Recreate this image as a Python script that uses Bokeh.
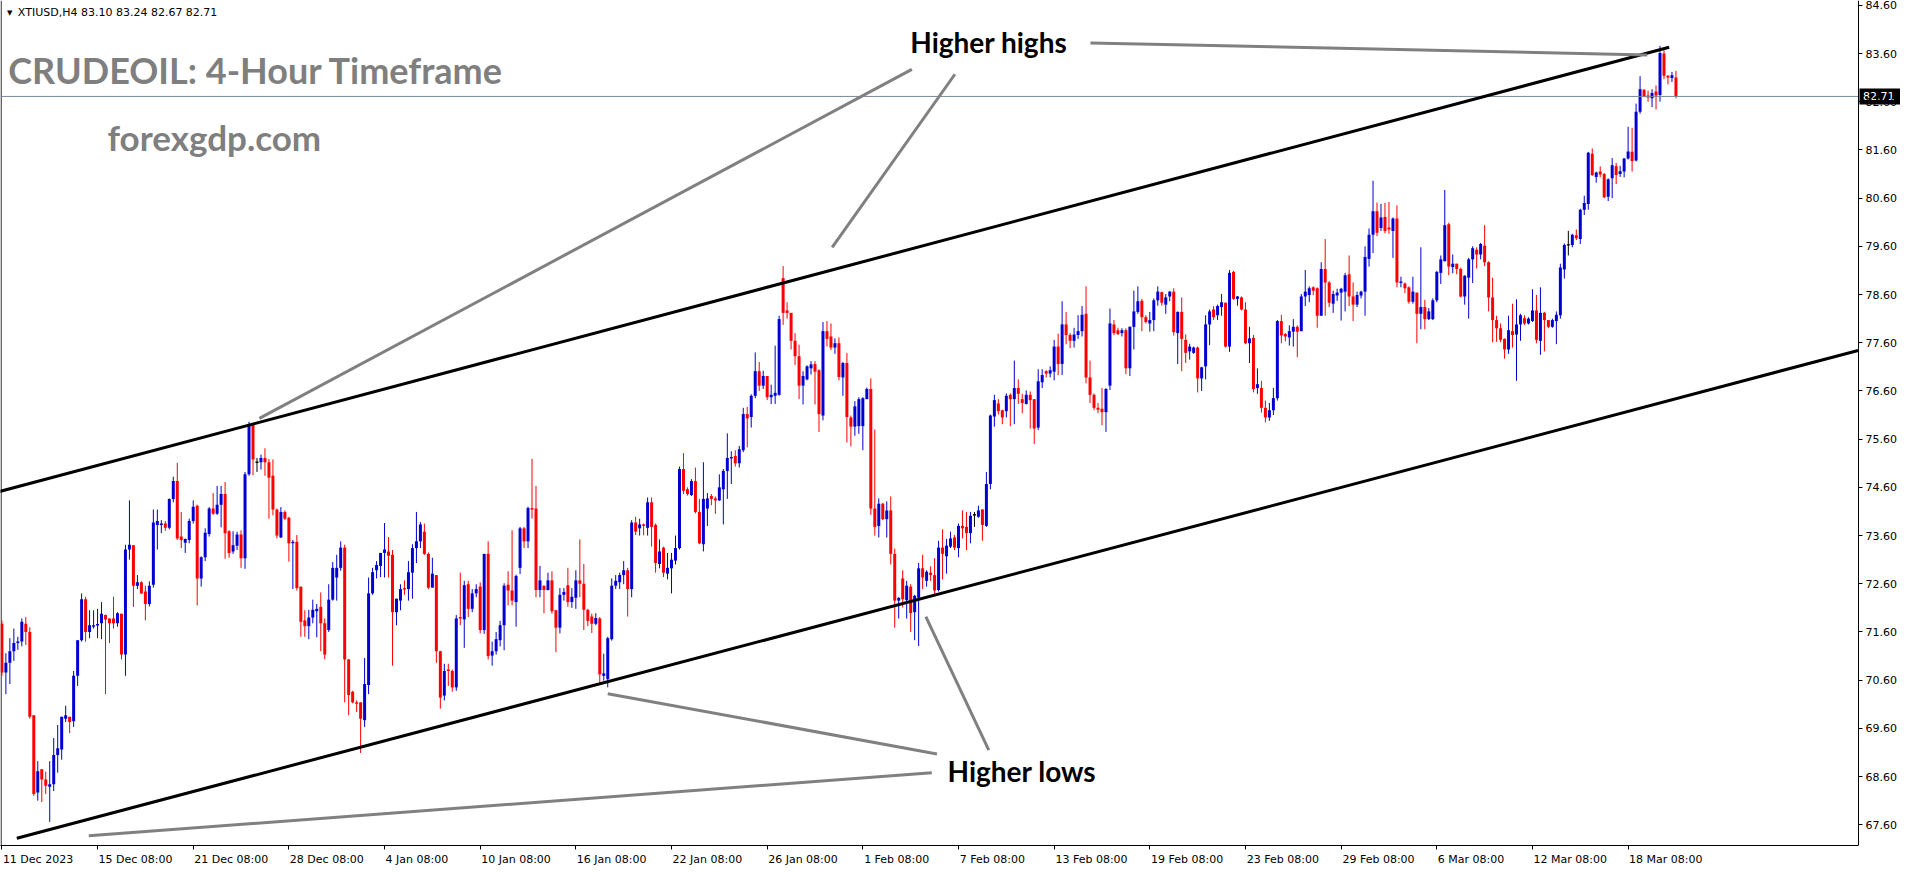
from bokeh.plotting import figure
from bokeh.models import Range1d, FixedTicker, PrintfTickFormatter
from bokeh.core.properties import value
from bokeh.embed import file_html
from bokeh.resources import INLINE

# ---------------- data (XTIUSD H4, one value per candle) ----------------
opens = [
    71.77, 70.76, 70.96, 71.20, 71.37, 71.40, 71.77, 71.60, 69.87, 68.27,
    68.75, 68.54, 68.39, 68.44, 69.05, 69.16, 69.80, 69.84, 69.75, 70.69,
    71.43, 72.28, 71.60, 71.71, 71.74, 71.78, 71.95, 71.88, 71.88, 71.78,
    71.98, 71.13, 73.31, 73.40, 72.56, 72.63, 72.44, 72.18, 72.58, 73.82,
    73.82, 73.85, 73.76, 74.36, 74.73, 73.58, 73.45, 73.51, 73.90, 74.22,
    72.71, 73.15, 73.63, 74.16, 74.05, 74.24, 74.46, 73.69, 73.27, 73.39,
    73.62, 73.13, 74.87, 75.91, 75.12, 75.12, 75.21, 75.12, 74.84, 74.14,
    73.56, 74.09, 73.97, 73.44, 73.47, 72.54, 71.84, 71.72, 71.90, 72.03,
    72.12, 71.78, 71.64, 72.27, 72.73, 72.93, 73.35, 71.03, 70.36, 70.14,
    70.14, 69.77, 70.50, 72.40, 72.88, 72.97, 73.24, 73.27, 73.20, 72.01,
    72.25, 72.51, 72.49, 72.83, 73.34, 73.48, 73.68, 73.22, 72.52, 72.78,
    71.20, 70.28, 70.82, 70.79, 70.45, 71.91, 71.86, 72.59, 72.08, 72.40,
    72.54, 71.64, 73.22, 71.11, 71.20, 71.43, 71.74, 72.58, 72.46, 72.22,
    72.93, 73.75, 73.48, 74.17, 74.16, 72.47, 72.56, 72.47, 72.67, 72.05,
    71.69, 72.37, 72.57, 72.22, 72.31, 72.67, 72.60, 72.06, 71.92, 71.77,
    71.88, 70.69, 70.62, 71.45, 72.56, 72.63, 72.78, 72.88, 72.49, 73.87,
    73.75, 73.83, 73.76, 74.29, 73.82, 73.01, 73.35, 72.81, 72.92, 73.08,
    73.34, 74.98, 74.56, 74.44, 74.73, 74.09, 73.42, 74.16, 74.42, 74.37,
    74.33, 74.56, 74.94, 75.20, 75.25, 75.10, 75.37, 76.12, 76.06, 76.50,
    77.01, 76.71, 76.91, 76.47, 76.50, 76.52, 78.94, 78.27, 78.22, 77.64,
    77.32, 76.71, 76.84, 77.07, 77.16, 77.03, 76.09, 77.84, 77.73, 77.50,
    77.59, 76.88, 77.18, 76.05, 75.86, 75.87, 75.87, 76.43, 76.64, 74.16,
    73.80, 74.26, 73.94, 74.12, 73.22, 72.25, 72.71, 72.26, 72.54, 72.01,
    72.31, 72.92, 72.66, 72.83, 72.78, 72.47, 73.35, 73.17, 73.37, 73.56,
    73.34, 73.80, 73.78, 73.65, 74.03, 73.99, 74.14, 73.80, 74.67, 76.07,
    76.34, 76.20, 76.18, 76.52, 76.43, 76.66, 76.43, 76.33, 76.52, 76.43,
    75.84, 76.78, 77.01, 76.96, 77.00, 77.52, 77.16, 77.98, 77.76, 77.64,
    77.76, 77.84, 78.20, 76.88, 76.52, 76.25, 76.23, 76.16, 76.71, 77.98,
    77.86, 77.80, 77.86, 77.07, 77.93, 78.24, 78.47, 78.13, 78.00, 78.07,
    78.48, 78.65, 78.39, 78.56, 78.66, 77.80, 78.24, 77.66, 77.42, 77.39,
    77.50, 76.86, 77.11, 77.98, 78.29, 78.17, 78.34, 78.43, 77.52, 79.07,
    78.51, 78.54, 78.29, 77.59, 77.70, 76.66, 76.66, 76.25, 76.05, 76.20,
    76.45, 78.05, 77.78, 77.71, 77.83, 77.93, 77.84, 78.56, 78.59, 78.75,
    78.73, 78.16, 79.13, 78.85, 78.41, 78.58, 78.64, 78.66, 79.02, 78.56,
    78.39, 78.58, 78.66, 79.34, 79.84, 80.33, 79.98, 80.21, 79.99, 79.92,
    80.18, 78.84, 78.83, 78.75, 78.45, 78.64, 78.20, 78.34, 78.09, 78.09,
    78.48, 79.05, 79.29, 80.06, 79.17, 79.24, 79.13, 78.56, 78.95, 79.33,
    79.53, 79.43, 79.61, 79.27, 78.54, 78.07, 77.90, 77.68, 77.46, 77.84,
    77.77, 77.98, 78.11, 78.00, 78.05, 78.27, 77.64, 78.22, 78.07, 77.93,
    78.05, 78.17, 79.12, 79.63, 79.63, 79.83, 79.75, 80.36, 80.48, 81.52,
    81.04, 81.15, 81.10, 80.63, 81.01, 81.26, 81.10, 81.15, 81.42, 81.56,
    81.38, 82.39, 82.85, 82.73, 82.67, 82.81, 82.74, 83.60, 83.14, 83.09,
    83.10,
]
highs = [
    71.84, 71.16, 71.47, 71.67, 71.50, 71.88, 71.91, 71.70, 69.87, 68.92,
    68.75, 68.70, 68.92, 69.40, 69.67, 69.84, 70.07, 69.84, 70.79, 71.43,
    72.40, 72.33, 72.05, 72.05, 72.08, 72.22, 71.96, 71.88, 72.33, 72.01,
    71.98, 73.41, 74.33, 73.40, 72.78, 72.65, 72.56, 72.65, 74.14, 74.14,
    73.92, 73.90, 74.37, 74.82, 75.11, 74.09, 73.54, 73.95, 74.33, 74.24,
    73.17, 73.75, 74.19, 74.48, 74.63, 74.63, 74.71, 73.71, 73.69, 73.68,
    73.71, 74.92, 75.96, 75.92, 75.21, 75.28, 75.41, 75.19, 75.18, 74.16,
    74.19, 74.12, 73.99, 73.51, 73.61, 72.54, 72.05, 72.06, 72.27, 72.18,
    72.42, 71.88, 72.59, 73.05, 73.20, 73.48, 73.41, 71.04, 70.38, 70.18,
    70.14, 71.06, 72.73, 72.93, 73.07, 73.24, 73.86, 73.57, 73.30, 72.29,
    72.59, 72.67, 73.07, 73.42, 74.09, 73.88, 73.85, 73.25, 73.14, 72.78,
    71.21, 70.94, 70.94, 70.82, 71.95, 72.83, 72.66, 72.66, 72.49, 72.59,
    72.63, 73.22, 73.48, 71.40, 71.60, 71.83, 72.61, 72.86, 73.71, 72.79,
    73.78, 73.78, 74.20, 75.19, 74.63, 72.97, 72.56, 72.83, 72.86, 72.06,
    72.51, 72.51, 72.93, 72.51, 72.88, 73.52, 73.01, 72.08, 71.98, 71.99,
    71.91, 71.15, 71.50, 72.71, 72.78, 72.83, 73.07, 72.93, 73.92, 73.99,
    73.95, 73.85, 74.39, 74.39, 73.85, 73.52, 73.37, 73.24, 73.24, 73.60,
    75.03, 75.31, 74.60, 74.77, 75.01, 74.36, 75.12, 74.48, 74.46, 74.41,
    74.87, 74.98, 75.72, 75.35, 75.37, 75.46, 76.25, 76.27, 76.53, 77.40,
    77.20, 77.02, 76.91, 76.73, 77.54, 78.16, 79.19, 78.44, 78.22, 77.80,
    77.56, 77.01, 77.13, 77.22, 77.22, 77.05, 78.03, 78.05, 78.00, 77.69,
    77.71, 77.20, 77.39, 76.09, 76.39, 76.47, 76.47, 76.67, 76.86, 75.80,
    74.37, 74.28, 74.31, 74.41, 73.33, 72.32, 72.88, 72.66, 72.59, 72.37,
    73.03, 73.20, 72.88, 72.96, 73.13, 73.49, 73.73, 73.53, 73.68, 73.61,
    73.85, 74.12, 74.09, 74.09, 74.09, 74.22, 74.15, 74.92, 76.11, 76.52,
    76.43, 76.21, 76.55, 76.55, 77.23, 76.84, 76.54, 76.61, 76.59, 76.43,
    77.05, 77.05, 77.03, 77.11, 77.66, 77.79, 78.46, 78.24, 77.80, 77.91,
    78.17, 78.36, 78.77, 77.23, 76.55, 76.35, 76.66, 76.66, 78.31, 78.07,
    77.91, 77.90, 77.90, 77.94, 78.68, 78.77, 78.51, 78.17, 78.24, 78.52,
    78.77, 78.66, 78.61, 78.67, 78.73, 78.25, 78.54, 77.77, 77.58, 77.52,
    77.52, 77.10, 78.17, 78.29, 78.36, 78.39, 78.61, 78.43, 79.11, 79.09,
    78.57, 78.56, 78.44, 77.93, 77.76, 77.07, 76.81, 76.40, 76.35, 76.66,
    78.07, 78.18, 77.80, 77.96, 78.09, 77.96, 78.61, 79.11, 78.77, 78.77,
    78.75, 79.27, 79.75, 78.88, 78.68, 78.72, 78.74, 79.05, 79.41, 78.85,
    78.66, 78.68, 79.60, 79.97, 80.96, 80.51, 80.48, 80.50, 80.52, 80.20,
    80.45, 78.97, 78.85, 78.77, 78.97, 78.64, 79.58, 78.49, 78.32, 78.52,
    79.09, 79.41, 80.77, 80.09, 79.43, 79.24, 79.16, 79.00, 79.36, 79.60,
    79.58, 79.67, 80.04, 79.29, 78.95, 78.16, 78.00, 77.69, 78.16, 78.41,
    78.50, 78.20, 78.17, 78.13, 78.71, 78.59, 78.75, 78.24, 78.07, 78.10,
    78.25, 79.24, 79.66, 79.92, 79.86, 79.95, 80.38, 80.65, 81.56, 81.63,
    81.15, 81.26, 81.12, 81.01, 81.43, 81.33, 81.27, 81.43, 82.08, 82.06,
    82.56, 83.13, 82.86, 82.83, 82.86, 82.94, 83.76, 83.67, 83.15, 83.22,
    83.24,
]
lows = [
    70.69, 70.31, 70.52, 71.00, 71.23, 71.30, 71.33, 69.80, 68.20, 68.10,
    68.07, 68.24, 67.66, 68.30, 68.68, 68.95, 69.73, 69.50, 69.63, 70.48,
    71.40, 71.40, 71.47, 71.67, 71.47, 71.45, 70.31, 71.37, 71.67, 71.71,
    71.03, 70.69, 73.10, 72.12, 72.49, 72.39, 71.84, 72.13, 72.52, 73.31,
    73.65, 73.70, 73.73, 74.29, 73.51, 73.34, 73.24, 73.44, 73.85, 72.15,
    72.54, 73.07, 73.58, 74.03, 74.03, 73.77, 73.12, 73.14, 73.22, 73.30,
    72.93, 72.91, 74.84, 74.85, 74.92, 74.97, 74.84, 73.95, 74.02, 73.54,
    73.55, 73.92, 73.06, 72.49, 72.46, 71.50, 71.50, 71.45, 71.78, 71.49,
    71.20, 71.03, 71.60, 72.25, 72.25, 72.87, 70.14, 69.87, 70.12, 69.94,
    69.09, 69.63, 70.31, 72.37, 72.71, 72.74, 72.73, 72.73, 70.90, 71.74,
    72.05, 72.37, 72.25, 72.29, 73.03, 73.34, 73.20, 72.49, 72.52, 70.96,
    70.01, 70.18, 70.48, 70.36, 70.38, 71.74, 71.27, 71.91, 72.01, 72.32,
    71.57, 71.56, 71.03, 70.90, 71.13, 71.30, 71.22, 72.15, 72.15, 71.71,
    72.80, 73.34, 73.34, 73.95, 72.32, 72.32, 71.99, 72.46, 71.98, 71.18,
    71.57, 72.25, 72.12, 72.10, 72.08, 72.32, 71.64, 71.72, 71.58, 71.74,
    70.55, 70.59, 70.45, 71.42, 72.49, 72.49, 72.59, 71.92, 72.32, 73.61,
    73.60, 73.61, 73.60, 73.37, 72.83, 72.92, 72.74, 72.69, 72.40, 73.00,
    73.31, 74.46, 74.43, 74.42, 74.06, 73.42, 73.27, 73.80, 74.23, 74.05,
    74.32, 73.83, 74.36, 74.67, 75.03, 75.01, 75.33, 75.43, 75.84, 76.45,
    76.60, 76.64, 76.41, 76.33, 76.33, 76.50, 77.97, 78.10, 77.46, 77.14,
    76.43, 76.32, 76.82, 76.94, 76.32, 75.75, 75.99, 77.52, 77.45, 77.37,
    76.82, 76.50, 75.53, 75.45, 75.67, 75.71, 75.37, 76.43, 74.03, 73.60,
    73.56, 73.92, 73.56, 73.00, 71.69, 71.88, 72.11, 71.88, 71.60, 71.43,
    71.31, 72.49, 72.54, 72.66, 72.39, 72.44, 72.69, 72.81, 73.34, 73.30,
    73.15, 73.54, 73.30, 73.44, 73.78, 73.97, 73.49, 73.78, 74.56, 75.86,
    76.11, 75.91, 76.05, 75.87, 75.91, 76.33, 76.14, 76.32, 75.82, 75.50,
    75.79, 76.66, 76.88, 76.88, 76.82, 76.93, 76.93, 77.57, 77.49, 77.50,
    77.68, 77.73, 76.76, 76.35, 76.20, 76.14, 75.89, 75.75, 76.62, 77.76,
    77.76, 77.73, 76.95, 76.91, 77.46, 78.20, 77.84, 78.00, 77.83, 77.84,
    78.37, 78.37, 78.20, 78.46, 77.75, 77.16, 77.01, 77.18, 77.25, 77.37,
    76.57, 76.60, 76.84, 77.55, 78.07, 78.07, 78.16, 77.50, 77.41, 78.49,
    78.37, 78.27, 77.57, 77.18, 76.57, 76.54, 76.15, 75.95, 75.98, 76.10,
    76.40, 77.59, 77.63, 77.54, 77.52, 77.30, 77.84, 78.36, 78.44, 78.59,
    77.91, 78.16, 78.16, 78.34, 78.22, 78.47, 78.06, 78.25, 78.36, 78.05,
    78.34, 78.52, 78.16, 79.18, 79.46, 79.81, 79.92, 79.87, 79.86, 79.36,
    78.75, 78.75, 78.63, 78.41, 78.41, 77.59, 77.88, 77.88, 78.07, 78.07,
    78.44, 78.82, 79.29, 79.00, 79.04, 79.02, 78.54, 78.39, 78.10, 78.84,
    79.14, 79.33, 79.19, 78.25, 77.61, 77.62, 77.61, 77.27, 77.37, 77.50,
    76.81, 77.64, 77.97, 77.98, 78.03, 77.59, 77.35, 77.42, 77.90, 77.91,
    77.57, 78.10, 78.93, 79.41, 79.58, 79.73, 79.65, 80.25, 80.36, 81.06,
    80.92, 81.03, 80.60, 80.54, 80.60, 80.89, 81.04, 81.03, 81.40, 81.15,
    81.36, 82.35, 82.69, 82.60, 82.49, 82.44, 82.60, 83.07, 82.96, 83.01,
    82.67,
]
closes = [
    70.76, 70.96, 71.20, 71.37, 71.40, 71.81, 71.60, 69.84, 68.24, 68.71,
    68.54, 68.41, 68.44, 69.05, 69.19, 69.84, 69.87, 69.73, 70.69, 71.43,
    72.28, 71.60, 71.74, 71.74, 71.76, 71.98, 71.86, 71.78, 71.78, 71.99,
    71.13, 73.31, 73.41, 72.56, 72.63, 72.40, 72.18, 72.56, 73.87, 73.90,
    73.85, 73.76, 74.36, 74.73, 73.54, 73.51, 73.53, 73.90, 74.20, 72.71,
    73.15, 73.66, 74.16, 74.05, 74.24, 74.46, 73.65, 73.24, 73.40, 73.62,
    73.13, 74.87, 75.91, 75.18, 75.12, 75.21, 75.12, 74.80, 74.14, 73.60,
    74.09, 73.95, 73.44, 73.47, 72.51, 71.81, 71.72, 71.90, 72.06, 72.08,
    71.78, 71.13, 72.27, 72.93, 72.93, 73.35, 71.03, 70.29, 70.14, 70.11,
    69.80, 70.52, 72.40, 72.84, 72.99, 73.24, 73.31, 73.18, 72.01, 72.29,
    72.49, 72.48, 72.84, 73.34, 73.48, 73.83, 73.22, 72.52, 72.81, 71.20,
    70.24, 70.79, 70.79, 70.45, 71.88, 71.88, 72.57, 72.08, 72.40, 72.49,
    71.64, 73.22, 71.10, 71.20, 71.45, 71.74, 72.56, 72.46, 72.25, 72.76,
    73.75, 73.48, 74.17, 74.14, 72.47, 72.67, 72.47, 72.67, 72.03, 71.69,
    72.37, 72.43, 72.22, 72.33, 72.67, 72.60, 72.06, 71.83, 71.77, 71.89,
    70.72, 70.74, 71.47, 72.56, 72.66, 72.78, 72.88, 72.49, 73.87, 73.68,
    73.83, 73.80, 74.29, 73.78, 73.03, 73.27, 72.83, 72.93, 73.10, 73.34,
    74.98, 74.53, 74.46, 74.73, 74.09, 73.44, 74.36, 74.37, 74.36, 74.33,
    74.60, 74.94, 75.21, 75.23, 75.10, 75.39, 76.12, 76.03, 76.50, 77.01,
    76.71, 76.91, 76.47, 76.52, 76.56, 78.09, 78.22, 78.22, 77.64, 77.32,
    76.71, 76.91, 77.11, 77.15, 77.00, 76.12, 77.84, 77.68, 77.50, 77.59,
    76.89, 77.18, 76.06, 75.86, 76.28, 76.43, 76.45, 76.64, 74.16, 73.78,
    74.26, 73.94, 74.12, 73.22, 72.25, 72.31, 72.28, 72.56, 71.99, 72.35,
    72.92, 72.73, 72.85, 72.78, 72.46, 73.35, 73.22, 73.39, 73.54, 73.35,
    73.80, 73.75, 73.65, 74.01, 74.03, 74.12, 73.82, 74.67, 76.09, 76.41,
    76.18, 76.05, 76.50, 76.43, 76.66, 76.54, 76.35, 76.52, 76.41, 75.82,
    76.80, 76.93, 76.96, 77.03, 77.52, 77.16, 77.98, 77.76, 77.64, 77.77,
    77.84, 78.18, 76.88, 76.52, 76.25, 76.21, 76.16, 76.64, 78.00, 77.80,
    77.78, 77.86, 77.07, 77.93, 78.25, 78.46, 78.13, 78.03, 78.07, 78.48,
    78.66, 78.43, 78.54, 78.66, 77.82, 78.24, 77.68, 77.39, 77.52, 77.50,
    76.86, 77.09, 77.98, 78.25, 78.13, 78.36, 78.44, 77.52, 79.05, 78.51,
    78.56, 78.29, 77.59, 77.69, 76.64, 76.74, 76.25, 76.05, 76.20, 76.45,
    78.05, 77.75, 77.73, 77.84, 77.93, 77.83, 78.56, 78.66, 78.73, 78.68,
    78.16, 79.13, 78.85, 78.43, 78.61, 78.64, 78.72, 79.00, 78.56, 78.39,
    78.59, 78.66, 79.38, 79.84, 80.33, 79.88, 80.20, 79.92, 79.95, 80.18,
    78.85, 78.87, 78.73, 78.45, 78.66, 78.20, 78.34, 78.09, 78.25, 78.48,
    79.07, 79.33, 80.04, 79.18, 79.24, 79.13, 78.56, 78.99, 79.33, 79.56,
    79.43, 79.65, 79.27, 78.54, 78.07, 77.90, 77.66, 77.46, 77.86, 77.76,
    77.98, 78.17, 78.00, 78.10, 78.27, 77.66, 78.22, 78.07, 77.93, 78.07,
    78.18, 79.16, 79.63, 79.63, 79.84, 79.77, 80.36, 80.50, 81.54, 81.08,
    81.13, 81.09, 80.62, 80.99, 81.28, 81.08, 81.16, 81.42, 81.57, 81.37,
    82.39, 82.86, 82.71, 82.69, 82.78, 82.73, 83.61, 83.14, 83.10, 83.15,
    82.71,
]

# axis tick values and labels
price_ticks = [67.6, 68.6, 69.6, 70.6, 71.6, 72.6, 73.6, 74.6, 75.6, 76.6,
               77.6, 78.6, 79.6, 80.6, 81.6, 82.6, 83.6, 84.6]
date_ticks = [0, 24, 48, 72, 96, 120, 144, 168, 192, 216, 240, 264, 288,
              312, 336, 360, 384, 408]
date_labels = ["11 Dec 2023", "15 Dec 08:00", "21 Dec 08:00", "28 Dec 08:00",
               "4 Jan 08:00", "10 Jan 08:00", "16 Jan 08:00", "22 Jan 08:00",
               "26 Jan 08:00", "1 Feb 08:00", "7 Feb 08:00", "13 Feb 08:00",
               "19 Feb 08:00", "23 Feb 08:00", "29 Feb 08:00", "6 Mar 08:00",
               "12 Mar 08:00", "18 Mar 08:00"]
last_price = 82.71
header_text = "XTIUSD,H4  83.10 83.24 82.67 82.71"

# drawn objects (candle index, price)
upper_channel_x = [-0.8, 418.3]
upper_channel_y = [74.51, 83.73]
lower_channel_x = [3.75, 465.7]
lower_channel_y = [67.32, 77.44]
pointer_x0 = [64.6, 208.3, 273.1, 152.0, 21.8, 231.8]
pointer_y0 = [76.03, 79.58, 83.82, 70.32, 67.37, 71.92]
pointer_x1 = [228.3, 239.1, 412.8, 234.6, 233.3, 247.6]
pointer_y1 = [83.27, 83.17, 83.57, 69.07, 68.68, 69.15]

n = len(closes)
assert len(opens) == n and len(highs) == n and len(lows) == n

# ---------------- figure ----------------
X0, X1 = -0.35, 465.8          # chart area (price scale sits at X1)
Y0, Y1 = 67.17, 84.70
FW_CHART, FH = 1858, 845        # pixel size of the chart area
FW = 1900                        # frame also holds the price-scale strip
ppu = FW_CHART / (X1 - X0)
XE = X0 + FW / ppu

p = figure(frame_width=FW, frame_height=FH,
           x_range=Range1d(X0, XE), y_range=Range1d(Y0, Y1),
           output_backend="svg", toolbar_location=None,
           y_axis_location="right",
           min_border_left=0, min_border_top=0,
           min_border_right=0, min_border_bottom=0)
p.background_fill_color = "white"
p.border_fill_color = "white"
p.outline_line_color = None
p.xgrid.visible = False
p.ygrid.visible = False

BLUE, RED, BLACK = "#0000D2", "#FF0000", "#000000"
idx = list(range(n))
cols = [BLUE if c > o else (RED if c < o else BLACK) for o, c in zip(opens, closes)]
tops, bots = [], []
for o, c in zip(opens, closes):
    t, b = max(o, c), min(o, c)
    if t - b < 0.03:
        m = (t + b) / 2
        t, b = m + 0.015, m - 0.015
    tops.append(t)
    bots.append(b)

# left border of the chart area
p.segment(x0=[X0 + 0.6 / ppu], y0=[Y0], x1=[X0 + 0.6 / ppu], y1=[Y1],
          line_color="black", line_width=1)

p.segment(x0=idx, y0=lows, x1=idx, y1=highs, line_color=cols, line_width=1)
p.vbar(x=idx, width=0.75, top=tops, bottom=bots, fill_color=cols, line_color=None)

# current price line
p.segment(x0=[X0], y0=[last_price], x1=[X1], y1=[last_price],
          line_color="#778899", line_width=1)

# channel lines
p.line(upper_channel_x, upper_channel_y, line_color="black", line_width=3)
p.line(lower_channel_x, lower_channel_y, line_color="black", line_width=3)
# pointer lines
p.segment(x0=pointer_x0, y0=pointer_y0, x1=pointer_x1, y1=pointer_y1,
          line_color="#808080", line_width=3)

# annotations text
p.text(x=[247.6], y=[83.84], text=["Higher highs"], text_font=value("Lato"),
       text_font_style="bold", text_font_size="28px", text_color="black",
       text_align="center", text_baseline="middle")
p.text(x=[255.9], y=[68.72], text=["Higher lows"], text_font=value("Lato"),
       text_font_style="bold", text_font_size="28px", text_color="black",
       text_align="center", text_baseline="middle")
p.text(x=[1.6], y=[83.25], text=["CRUDEOIL: 4-Hour Timeframe"], text_font=value("Lato"),
       text_font_style="bold", text_font_size="36px", text_color="#7f7f7f",
       text_align="left", text_baseline="alphabetic")
p.text(x=[53.3], y=[81.86], text=["forexgdp.com"], text_font=value("Lato"),
       text_font_style="bold", text_font_size="35px", text_color="#7f7f7f",
       text_align="center", text_baseline="middle")
p.text(x=[1.3], y=[84.45], text=["\u25bc"], text_font=value("DejaVu Sans"),
       text_font_size="7px", text_color="black",
       text_align="left", text_baseline="middle")
p.text(x=[4.0], y=[84.45], text=[header_text], text_font=value("DejaVu Sans"),
       text_font_size="11px", text_color="black",
       text_align="left", text_baseline="middle")

# current price tag next to the price scale
p.rect(x=[X1 + 23 / ppu], y=[last_price], width=44, height=16,
       width_units="screen", height_units="screen",
       fill_color="black", line_color=None)
p.text(x=[X1 + 4.5 / ppu], y=[last_price], text=["82.71"],
       text_font=value("DejaVu Sans"), text_font_size="11px",
       text_color="white", text_align="left", text_baseline="middle")

# right price axis, drawn at the edge of the chart area
yax = p.yaxis[0]
yax.fixed_location = X1
yax.ticker = FixedTicker(ticks=price_ticks)
yax.formatter = PrintfTickFormatter(format="%.2f")
yax.major_tick_out = 4
yax.major_tick_in = 0
yax.minor_tick_line_color = None
yax.axis_line_color = "black"
yax.major_tick_line_color = "black"
yax.major_label_text_font = "DejaVu Sans"
yax.major_label_text_font_size = "11px"
yax.major_label_text_color = "black"
yax.major_label_standoff = 3

# bottom date axis: label text starts at the tick mark
cw = {" ": 0.318, ":": 0.337, "D": 0.770, "e": 0.615, "c": 0.550, "J": 0.295,
      "a": 0.613, "n": 0.634, "F": 0.575, "b": 0.635, "M": 0.863, "r": 0.411}
label_pos = []
for t, lab in zip(date_ticks, date_labels):
    w = sum(cw.get(ch, 0.636) for ch in lab) * 11
    label_pos.append(round(t + (w / 2 + 1) / ppu, 3))
xax = p.xaxis[0]
xax.bounds = (X0, X1)
xax.ticker = FixedTicker(ticks=label_pos, minor_ticks=date_ticks)
xax.major_label_overrides = {pos: lab for pos, lab in zip(label_pos, date_labels)}
xax.major_tick_line_color = None
xax.major_tick_out = 4
xax.minor_tick_line_color = "black"
xax.minor_tick_out = 4
xax.minor_tick_in = 0
xax.axis_line_color = "black"
xax.major_label_text_font = "DejaVu Sans"
xax.major_label_text_font_size = "11px"
xax.major_label_text_color = "black"
xax.major_label_standoff = 3

open("out.html", "w").write(file_html(p, INLINE, title="CRUDEOIL 4-Hour"))
